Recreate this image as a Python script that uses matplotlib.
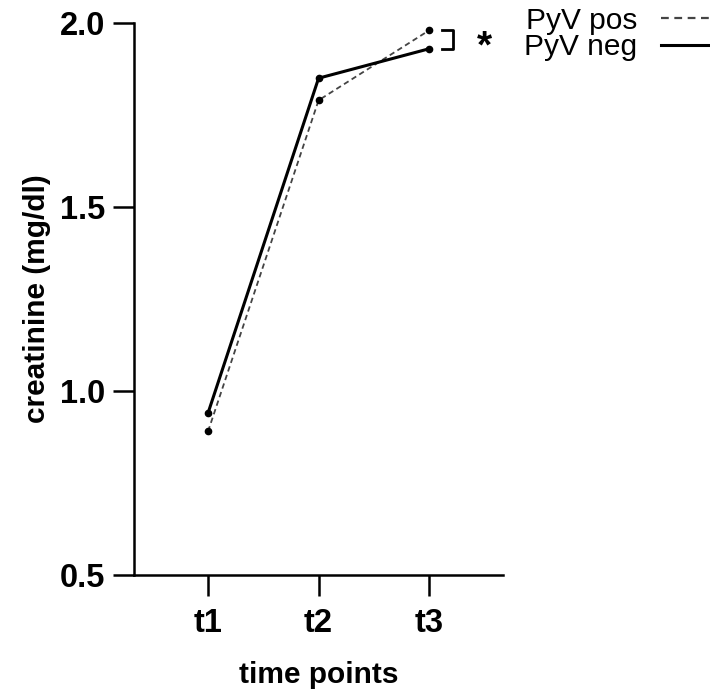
import matplotlib
matplotlib.use("Agg")
import matplotlib.pyplot as plt

plt.rcParams['font.family'] = ['Liberation Sans', 'DejaVu Sans']

time_points = ["t1", "t2", "t3"]
pyv_pos = [0.89, 1.79, 1.98]
pyv_neg = [0.94, 1.85, 1.93]
y_ticks = [0.5, 1.0, 1.5, 2.0]

x = [1, 2, 3]

fig = plt.figure(figsize=(7.1, 6.91), dpi=100)
ax = fig.add_axes([0.1887, 0.168, 0.52, 0.7987])

ax.plot(x, pyv_pos, linestyle=(0, (3, 2)), color="#444444", linewidth=1.3,
        marker="o", markersize=4.5, markerfacecolor="black", markeredgecolor="black",
        label="PyV pos", clip_on=False)
ax.plot(x, pyv_neg, linestyle="-", color="black", linewidth=2.2,
        marker="o", markersize=4.5, label="PyV neg", clip_on=False)

ax.set_xlim(0.33, 3.67)
ax.set_ylim(0.5, 2.0)
ax.set_xticks(x)
ax.set_xticklabels(time_points)
ax.set_yticks(y_ticks)
ax.set_yticklabels([f"{v:.1f}" for v in y_ticks])

for s in ["top", "right"]:
    ax.spines[s].set_visible(False)
for s in ["left", "bottom"]:
    ax.spines[s].set_linewidth(1.8)
ax.tick_params(axis="both", length=15, width=1.8, labelsize=23.5)
ax.tick_params(axis="y", pad=6)
ax.tick_params(axis="x", pad=9)
for lab in ax.get_xticklabels() + ax.get_yticklabels():
    lab.set_fontweight("bold")

ax.set_ylabel("creatinine (mg/dl)", fontsize=21.5, fontweight="bold", labelpad=6)
ax.set_xlabel("time points", fontsize=21.5, fontweight="bold", labelpad=16)

# significance bracket between the t3 values
bx0, bx1 = 3.12, 3.22
ax.plot([bx0, bx1, bx1, bx0], [pyv_pos[2], pyv_pos[2], pyv_neg[2], pyv_neg[2]],
        color="black", linewidth=2.0, clip_on=False)
ax.annotate("*", xy=(3.5, (pyv_pos[2] + pyv_neg[2]) / 2), xytext=(0, -6),
            textcoords="offset points", fontsize=28, fontweight="bold",
            ha="center", va="center", annotation_clip=False)

fig.legend(loc="upper left", bbox_to_anchor=(0.738, 0.99), frameon=False,
           markerfirst=False, fontsize=21.5, handlelength=1.7, handletextpad=0.8,
           labelspacing=-0.05, borderaxespad=0, borderpad=0)
leg = fig.legends[0]
for h in leg.legend_handles:
    h.set_marker("")
leg.legend_handles[0].set_linestyle((0, (3.5, 2.5)))
leg.legend_handles[0].set_linewidth(1.6)

fig.savefig("out.png", dpi=100)
